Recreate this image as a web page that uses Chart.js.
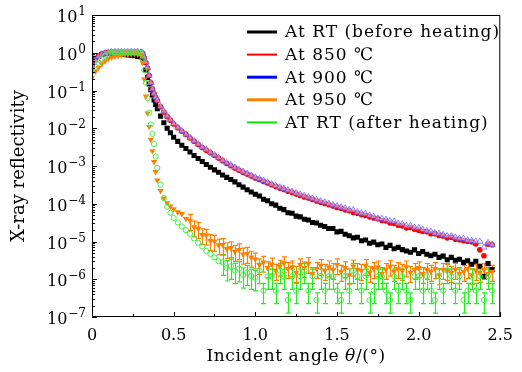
<!DOCTYPE html>
<html lang="en">
<head>
<meta charset="UTF-8">
<title>X-ray reflectivity</title>
<script src="https://cdn.jsdelivr.net/npm/chart.js"></script>
<style>
  body { margin: 0; background: #fff; }
  #wrap { width: 522px; height: 372px; }
</style>
</head>
<body>
<div id="wrap"><canvas id="xrr"></canvas></div>
<script>
// incident angle (deg), shared by all curves
const angles = [
  0, 0.02, 0.04, 0.06, 0.08, 0.10, 0.12, 0.14, 0.16, 0.18,
  0.20, 0.22, 0.24, 0.26, 0.28, 0.30, 0.31, 0.32, 0.33, 0.34,
  0.35, 0.36, 0.37, 0.38, 0.39, 0.40, 0.42, 0.44, 0.46, 0.48,
  0.50, 0.525, 0.55, 0.575, 0.60, 0.625, 0.65, 0.675, 0.70, 0.725,
  0.75, 0.775, 0.80, 0.825, 0.85, 0.875, 0.90, 0.925, 0.95, 0.975,
  1.00, 1.025, 1.05, 1.075, 1.10, 1.125, 1.15, 1.175, 1.20, 1.225,
  1.25, 1.275, 1.30, 1.325, 1.35, 1.375, 1.40, 1.425, 1.45, 1.475,
  1.50, 1.525, 1.55, 1.575, 1.60, 1.625, 1.65, 1.675, 1.70, 1.725,
  1.75, 1.775, 1.80, 1.825, 1.85, 1.875, 1.90, 1.925, 1.95, 1.975,
  2.00, 2.025, 2.05, 2.075, 2.10, 2.125, 2.15, 2.175, 2.20, 2.225,
  2.25, 2.275, 2.30, 2.325, 2.35, 2.375, 2.40, 2.425, 2.45
];

const rtBefore = [
  0.50, 0.71, 0.83, 0.91, 0.95, 0.96, 0.95, 0.94, 0.93, 0.92,
  0.90, 0.88, 0.86, 0.83, 0.80, 0.77, 0.74, 0.56, 0.35, 0.22,
  0.15, 0.105, 0.076, 0.056, 0.043, 0.033, 0.021, 0.014, 0.010, 7.6e-3,
  5.75e-3, 4.5e-3, 3.55e-3, 2.9e-3, 2.35e-3, 1.9e-3, 1.58e-3, 1.32e-3, 1.1e-3, 9.3e-4,
  7.9e-4, 6.8e-4, 5.75e-4, 5.0e-4, 4.4e-4, 3.8e-4, 3.2e-4, 2.75e-4, 2.35e-4, 2.05e-4,
  1.78e-4, 1.6e-4, 1.32e-4, 1.2e-4, 1.0e-4, 9.2e-5, 7.6e-5, 7.0e-5, 5.8e-5, 5.6e-5,
  4.7e-5, 4.5e-5, 3.9e-5, 3.7e-5, 3.2e-5, 3.1e-5, 2.7e-5, 2.5e-5, 2.2e-5, 2.2e-5,
  1.8e-5, 1.85e-5, 1.55e-5, 1.42e-5, 1.25e-5, 1.3e-5, 1.05e-5, 1.1e-5, 9.0e-6, 9.6e-6,
  8.2e-6, 8.6e-6, 7.0e-6, 7.9e-6, 6.4e-6, 7.0e-6, 6.1e-6, 5.6e-6, 5.2e-6, 6.0e-6,
  4.8e-6, 5.4e-6, 4.6e-6, 4.2e-6, 4.6e-6, 3.8e-6, 4.1e-6, 3.3e-6, 3.8e-6, 3.2e-6,
  3.4e-6, 2.8e-6, 3.1e-6, 2.5e-6, 3.0e-6, 2.2e-6, 1.2e-6, 2.6e-6, 1.8e-6
];

const at850 = [
  0.47, 0.65, 0.80, 0.92, 0.98, 1.02, 1.04, 1.05, 1.05, 1.05,
  1.05, 1.05, 1.05, 1.05, 1.04, 1.02, 0.96, 0.74, 0.54, 0.39,
  0.25, 0.16, 0.11, 0.082, 0.065, 0.054, 0.037, 0.027, 0.0205, 0.0163,
  0.013, 1.03e-2, 8.3e-3, 6.8e-3, 5.5e-3, 4.5e-3, 3.7e-3, 3.1e-3, 2.6e-3, 2.25e-3,
  1.9e-3, 1.62e-3, 1.38e-3, 1.17e-3, 1.02e-3, 8.8e-4, 7.7e-4, 6.8e-4, 6.1e-4, 5.4e-4,
  4.8e-4, 4.4e-4, 3.9e-4, 3.55e-4, 3.2e-4, 2.85e-4, 2.6e-4, 2.4e-4, 2.15e-4, 2.0e-4,
  1.8e-4, 1.65e-4, 1.52e-4, 1.42e-4, 1.3e-4, 1.18e-4, 1.1e-4, 1.02e-4, 9.4e-5, 8.7e-5,
  8.0e-5, 7.6e-5, 6.9e-5, 6.5e-5, 5.9e-5, 5.6e-5, 5.1e-5, 4.9e-5, 4.5e-5, 4.2e-5,
  4.0e-5, 3.6e-5, 3.5e-5, 3.1e-5, 3.0e-5, 2.7e-5, 2.6e-5, 2.3e-5, 2.35e-5, 2.1e-5,
  2.0e-5, 1.85e-5, 1.8e-5, 1.6e-5, 1.6e-5, 1.45e-5, 1.4e-5, 1.25e-5, 1.3e-5, 1.15e-5,
  1.12e-5, 1.05e-5, 1.0e-5, 9.8e-6, 8.6e-6, 6.0e-6, 4.2e-6, 8.5e-6, 8.2e-6
];

const at900 = [
  0.45, 0.63, 0.79, 0.91, 0.98, 1.02, 1.05, 1.05, 1.05, 1.06,
  1.05, 1.05, 1.06, 1.05, 1.05, 1.03, 0.98, 0.76, 0.56, 0.40,
  0.25, 0.16, 0.11, 0.083, 0.066, 0.055, 0.038, 0.028, 0.021, 0.0166,
  0.0132, 1.05e-2, 8.5e-3, 6.9e-3, 5.6e-3, 4.6e-3, 3.8e-3, 3.16e-3, 2.7e-3, 2.3e-3,
  1.95e-3, 1.66e-3, 1.41e-3, 1.2e-3, 1.05e-3, 9.1e-4, 7.9e-4, 7.1e-4, 6.3e-4, 5.6e-4,
  5.0e-4, 4.6e-4, 4.1e-4, 3.7e-4, 3.3e-4, 3.0e-4, 2.75e-4, 2.5e-4, 2.3e-4, 2.1e-4,
  1.9e-4, 1.78e-4, 1.62e-4, 1.5e-4, 1.38e-4, 1.26e-4, 1.17e-4, 1.1e-4, 1.0e-4, 9.3e-5,
  8.7e-5, 8.1e-5, 7.6e-5, 6.9e-5, 6.8e-5, 6.0e-5, 5.6e-5, 5.4e-5, 4.9e-5, 4.6e-5,
  4.1e-5, 4.0e-5, 3.8e-5, 3.5e-5, 3.4e-5, 3.0e-5, 2.9e-5, 2.6e-5, 2.6e-5, 2.35e-5,
  2.3e-5, 2.05e-5, 1.9e-5, 1.85e-5, 1.65e-5, 1.6e-5, 1.5e-5, 1.4e-5, 1.4e-5, 1.29e-5,
  1.2e-5, 1.18e-5, 1.08e-5, 1.05e-5, 1.0e-5, 1.0e-5, 7.0e-6, 9.2e-6, 8.2e-6
];

const at950 = [
  0.22, 0.32, 0.40, 0.50, 0.60, 0.69, 0.76, 0.80, 0.83, 0.85,
  0.89, 0.91, 0.93, 0.93, 0.91, 0.85, 0.55, 0.20, 0.07, 0.025,
  0.011, 5.0e-3, 2.5e-3, 1.3e-3, 7.0e-4, 4.2e-4, 2.2e-4, 1.4e-4, 1.05e-4, 8.5e-5,
  7.2e-5, 6.0e-5, 5.4e-5, 4.0e-5, 3.6e-5, 2.4e-5, 2.2e-5, 1.5e-5, 1.45e-5, 1.05e-5,
  1.0e-5, 8.0e-6, 8.2e-6, 6.4e-6, 6.8e-6, 5.4e-6, 6.0e-6, 4.6e-6, 4.8e-6, 3.8e-6,
  3.4e-6, 2.4e-6, 2.8e-6, 2.0e-6, 2.5e-6, 1.7e-6, 2.2e-6, 2.7e-6, 1.9e-6, 2.1e-6,
  1.5e-6, 2.4e-6, 2.0e-6, 2.6e-6, 1.4e-6, 1.9e-6, 2.3e-6, 1.7e-6, 2.1e-6, 1.8e-6,
  2.4e-6, 1.6e-6, 2.0e-6, 1.3e-6, 2.2e-6, 1.8e-6, 1.7e-6, 2.3e-6, 1.5e-6, 1.9e-6,
  2.1e-6, 1.4e-6, 1.8e-6, 2.2e-6, 1.6e-6, 1.9e-6, 1.7e-6, 2.1e-6, 1.5e-6, 1.8e-6,
  2.0e-6, 1.4e-6, 1.8e-6, 1.6e-6, 1.9e-6, 1.3e-6, 1.8e-6, 1.7e-6, 1.5e-6, 1.8e-6,
  1.4e-6, 1.6e-6, 1.9e-6, 1.3e-6, 1.7e-6, 1.5e-6, 1.8e-6, 1.4e-6, 1.6e-6
];

const rtAfter = [
  0.32, 0.42, 0.54, 0.68, 0.83, 0.95, 1.02, 1.04, 1.05, 1.05,
  1.05, 1.05, 1.05, 1.04, 1.03, 0.98, 0.70, 0.35, 0.16, 0.063,
  0.026, 0.0126, 7.1e-3, 3.8e-3, 1.78e-3, 8.9e-4, 3.2e-4, 1.41e-4, 8.3e-5, 5.75e-5,
  4.2e-5, 3.2e-5, 2.5e-5, 2.0e-5, 1.6e-5, 1.2e-5, 9.3e-6, 7.4e-6, 5.6e-6, 4.7e-6,
  3.8e-6, 3.0e-6, 2.8e-6, 2.0e-6, 2.2e-6, 1.7e-6, 1.9e-6, 1.3e-6, 1.5e-6, 1.2e-6,
  1.1e-6, 1.7e-6, 5e-7, 1.2e-6, 1.2e-6, 5e-7, 1.7e-6, 1.2e-6, 2.8e-7, 1.2e-6,
  5e-7, 1.2e-6, 1.7e-6, 5e-7, 1.2e-6, 2.8e-7, 1.2e-6, 5e-7, 1.2e-6, 1.2e-6,
  5e-7, 2.8e-7, 1.2e-6, 5e-7, 1.7e-6, 1.2e-6, 5e-7, 1.2e-6, 2.8e-7, 5e-7,
  1.2e-6, 1.2e-6, 5e-7, 2.8e-7, 1.2e-6, 5e-7, 1.2e-6, 5e-7, 2.8e-7, 1.2e-6,
  1.2e-6, 5e-7, 1.2e-6, 5e-7, 2.8e-7, 1.2e-6, 5e-7, 1.7e-6, 1.2e-6, 5e-7,
  1.2e-6, 2.8e-7, 5e-7, 1.2e-6, 5e-7, 1.2e-6, 2.8e-7, 1.2e-6, 5e-7
];

const seriesNames = ['At RT (before heating)', 'At 850 ℃', 'At 900 ℃', 'At 950 ℃', 'AT RT (after heating)'];
const seriesColors = ['#000000', '#ff0000', '#0000ff', '#ff8000', '#00ee00'];

const xTickValues = [0, 0.5, 1.0, 1.5, 2.0, 2.5];
const xTickLabels = ['0', '0.5', '1.0', '1.5', '2.0', '2.5'];
const xMinorTicks = [0.25, 0.75, 1.25, 1.75, 2.25];
const yTickExponents = [-7, -6, -5, -4, -3, -2, -1, 0, 1];

const SERIF = '"DejaVu Serif", "Liberation Serif", serif';

function points(vals) {
  return angles.map((a, i) => ({ x: a, y: vals[i] }));
}

const decor = {
  id: 'decor',
  beforeDatasetsDraw(chart) {
    // error bars on the noisy floor
    const { ctx, chartArea: a, scales: { x, y } } = chart;
    ctx.save();
    ctx.beginPath();
    ctx.rect(a.left, a.top, a.right - a.left, a.bottom - a.top);
    ctx.clip();
    chart.data.datasets.forEach(ds => {
      if (!ds.errRel) return;
      ctx.strokeStyle = ds.errColor;
      ctx.lineWidth = 1.2;
      ds.data.forEach(p => {
        if (p.x < ds.errFrom) return;
        const px = Math.round(x.getPixelForValue(p.x)) + 0.5;
        const top = y.getPixelForValue(p.y * (1 + ds.errRel));
        const lo = p.y * (1 - ds.errRel);
        const bot = lo > y.min ? y.getPixelForValue(lo) : a.bottom;
        ctx.beginPath();
        ctx.moveTo(px, top); ctx.lineTo(px, bot);
        ctx.moveTo(px - 2.5, top); ctx.lineTo(px + 2.5, top);
        ctx.moveTo(px - 2.5, bot); ctx.lineTo(px + 2.5, bot);
        ctx.stroke();
      });
    });
    ctx.restore();
  },
  afterDraw(chart) {
    const { ctx, chartArea: a, scales: { x, y } } = chart;
    ctx.save();
    ctx.strokeStyle = '#000';
    ctx.lineWidth = 1;
    ctx.strokeRect(a.left + 0.5, a.top + 0.5, a.right - a.left - 1, a.bottom - a.top - 1);

    // inward ticks, left axis
    ctx.beginPath();
    yTickExponents.forEach(e => {
      const py = Math.round(y.getPixelForValue(Math.pow(10, e))) + 0.5;
      ctx.moveTo(a.left, py); ctx.lineTo(a.left + 5, py);
      if (e < 1) {
        for (let k = 2; k <= 9; k++) {
          const my = Math.round(y.getPixelForValue(k * Math.pow(10, e))) + 0.5;
          ctx.moveTo(a.left, my); ctx.lineTo(a.left + 3, my);
        }
      }
    });
    // inward ticks, bottom axis
    xTickValues.forEach(v => {
      const px = Math.round(x.getPixelForValue(v)) + 0.5;
      ctx.moveTo(px, a.bottom); ctx.lineTo(px, a.bottom - 5);
    });
    xMinorTicks.forEach(v => {
      const px = Math.round(x.getPixelForValue(v)) + 0.5;
      ctx.moveTo(px, a.bottom); ctx.lineTo(px, a.bottom - 3);
    });
    ctx.stroke();

    // y tick labels as 10 with superscript exponent
    ctx.fillStyle = '#000';
    ctx.textBaseline = 'middle';
    ctx.textAlign = 'right';
    yTickExponents.forEach(e => {
      const py = y.getPixelForValue(Math.pow(10, e));
      const ex = e < 0 ? '\u2212' + Math.abs(e) : String(e);
      ctx.font = '12px ' + SERIF;
      const w = ctx.measureText(ex).width;
      ctx.fillText(ex, a.left - 6, py - 3);
      ctx.font = '16px ' + SERIF;
      ctx.fillText('10', a.left - 7 - w, py + 3);
    });

    // x axis title with italic theta
    ctx.letterSpacing = '0.6px';
    const parts = [['Incident angle ', ''], ['θ', 'italic '], ['/(°)', '']];
    let total = 0;
    parts.forEach(p => { ctx.font = p[1] + '17px ' + SERIF; total += ctx.measureText(p[0]).width; });
    let cx = (a.left + a.right) / 2 - total / 2;
    ctx.textAlign = 'left';
    parts.forEach(p => {
      ctx.font = p[1] + '17px ' + SERIF;
      ctx.fillText(p[0], cx, 357);
      cx += ctx.measureText(p[0]).width;
    });

    // legend inside plot, top right
    ctx.font = '17px ' + SERIF;
    ctx.letterSpacing = '1px';
    const widths = [3, 2, 3, 3, 2];
    seriesNames.forEach((name, i) => {
      const ly = 32 + i * 22.6;
      ctx.strokeStyle = seriesColors[i];
      ctx.lineWidth = widths[i];
      ctx.beginPath();
      ctx.moveTo(247, ly); ctx.lineTo(277, ly);
      ctx.stroke();
      ctx.fillStyle = '#000';
      ctx.fillText(name, 285, ly + 1);
    });
    ctx.restore();
  }
};

Chart.defaults.font.family = SERIF;
Chart.defaults.color = '#000';

new Chart(document.getElementById('xrr'), {
  type: 'scatter',
  data: {
    datasets: [
      { label: seriesNames[0], data: points(rtBefore), order: 4,
        pointStyle: 'rect', pointRadius: 3.6, backgroundColor: '#000', borderColor: '#000', borderWidth: 0 },
      { label: seriesNames[1], data: points(at850), order: 3,
        pointStyle: 'circle', pointRadius: 2.8, backgroundColor: '#ff0000', borderColor: '#ff0000', borderWidth: 0 },
      { label: seriesNames[2], data: points(at900), order: 2,
        pointStyle: 'triangle', pointRadius: 3.6, backgroundColor: 'rgba(225,220,255,0.55)', borderColor: 'rgba(80,80,255,0.8)', borderWidth: 0.8 },
      { label: seriesNames[3], data: points(at950), order: 1, errRel: 0.45, errFrom: 0.6, errColor: '#ff8000',
        pointStyle: 'triangle', rotation: 180, pointRadius: 3.6, backgroundColor: '#ff8000', borderColor: '#ff8000', borderWidth: 0 },
      { label: seriesNames[4], data: points(rtAfter), order: 0, errRel: 0.55, errFrom: 0.8, errColor: '#22ee22',
        pointStyle: 'circle', pointRadius: 2.6, backgroundColor: 'rgba(255,255,255,0)', borderColor: '#44ee44', borderWidth: 1 }
    ]
  },
  options: {
    responsive: true,
    maintainAspectRatio: false,
    animation: false,
    layout: { padding: { left: 0, right: 14, top: 15, bottom: 0 } },
    plugins: { legend: { display: false }, tooltip: { enabled: false } },
    elements: { point: { hoverRadius: 3 } },
    scales: {
      x: {
        type: 'linear', min: 0, max: 2.5,
        grid: { display: false, drawTicks: false },
        border: { display: false },
        afterBuildTicks: s => { s.ticks = xTickValues.map(v => ({ value: v })); },
        afterFit: s => { s.height = 55; },
        ticks: { padding: 9, font: { size: 16 }, maxRotation: 0, callback: (v, i) => xTickLabels[i] }
      },
      y: {
        type: 'logarithmic', min: 1e-7, max: 10,
        grid: { display: false, drawTicks: false },
        border: { display: false },
        afterFit: s => { s.width = 92; },
        ticks: { display: false },
        title: { display: true, text: 'X-ray reflectivity', font: { size: 18 }, padding: { top: 9, bottom: 0 } }
      }
    }
  },
  plugins: [decor]
});
</script>
</body>
</html>
